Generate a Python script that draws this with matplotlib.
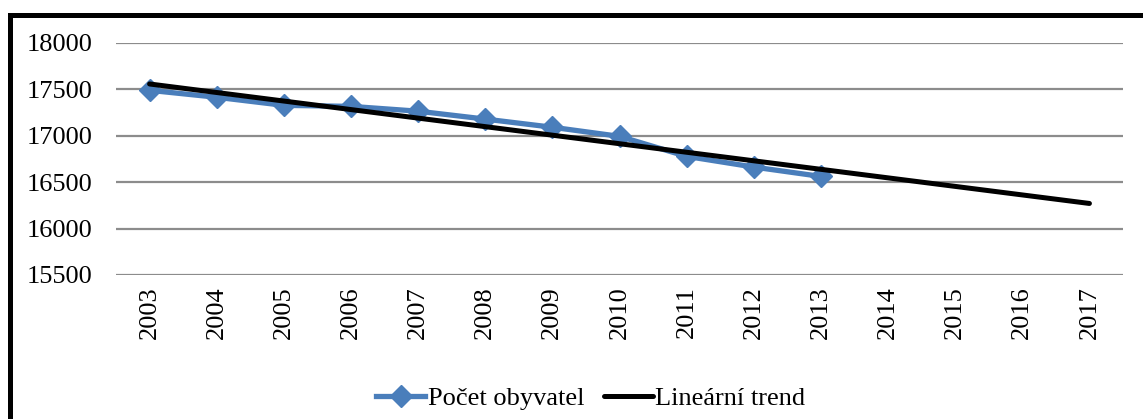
#!/usr/bin/env python3
import numpy as np
import matplotlib
matplotlib.use('Agg')
import matplotlib.pyplot as plt
from matplotlib.lines import Line2D

## Data
years = [str(y) for y in range(2003, 2018)]
obyvatel_years = list(range(2003, 2014))
obyvatel = [17490, 17415, 17328, 17317, 17265, 17180, 17092, 16994, 16778, 16663, 16562]
y_ticks = [15500, 16000, 16500, 17000, 17500, 18000]

## Linear trend fitted to the data, extended to 2017
x_data = np.arange(len(obyvatel))
coef = np.polyfit(x_data, obyvatel, 1)
x_trend = np.arange(len(years))
trend = np.polyval(coef, x_trend)

plt.rcParams['font.family'] = ['Liberation Serif', 'DejaVu Serif']

fig = plt.figure(figsize=(11.43, 4.19), dpi=100)
ax = fig.add_axes([0.1015, 0.3437, 0.881, 0.5537])

blue = '#4a7ebb'
ax.plot(x_data, obyvatel, color=blue, lw=3.8, marker='D', markersize=11,
        label='Počet obyvatel', zorder=3)
ax.plot(x_trend, trend, color='black', lw=3.6, solid_capstyle='round',
        label='Lineární trend', zorder=4)

ax.set_xlim(-0.5, len(years) - 0.5)
ax.set_ylim(15500, 18000)
ax.set_yticks(y_ticks)
ax.set_yticklabels([str(v) for v in y_ticks], fontsize=19)
ax.set_xticks(x_trend)
ax.set_xticklabels(years, rotation=90, fontsize=19)
ax.tick_params(length=0, pad=8)
ax.tick_params(axis='y', pad=17)
ax.yaxis.grid(True, color='#8c8c8c', lw=1.6)
ax.set_axisbelow(True)
for s in ax.spines.values():
    s.set_visible(False)

fig.legend(loc='center', bbox_to_anchor=(0.517, 0.05), ncol=2, frameon=False,
           fontsize=19, handlelength=1.85, handletextpad=0.1, columnspacing=0.75)

## Thick frame, cut off at right and bottom
fig.add_artist(Line2D([10/1143, 10/1143], [0, 1 - 15/419], color='black',
                      lw=3.6, transform=fig.transFigure))
fig.add_artist(Line2D([10/1143, 1], [1 - 15/419, 1 - 15/419], color='black',
                      lw=3.6, transform=fig.transFigure, solid_capstyle='projecting'))

plt.savefig('out.png', dpi=100)
plt.close(fig)
